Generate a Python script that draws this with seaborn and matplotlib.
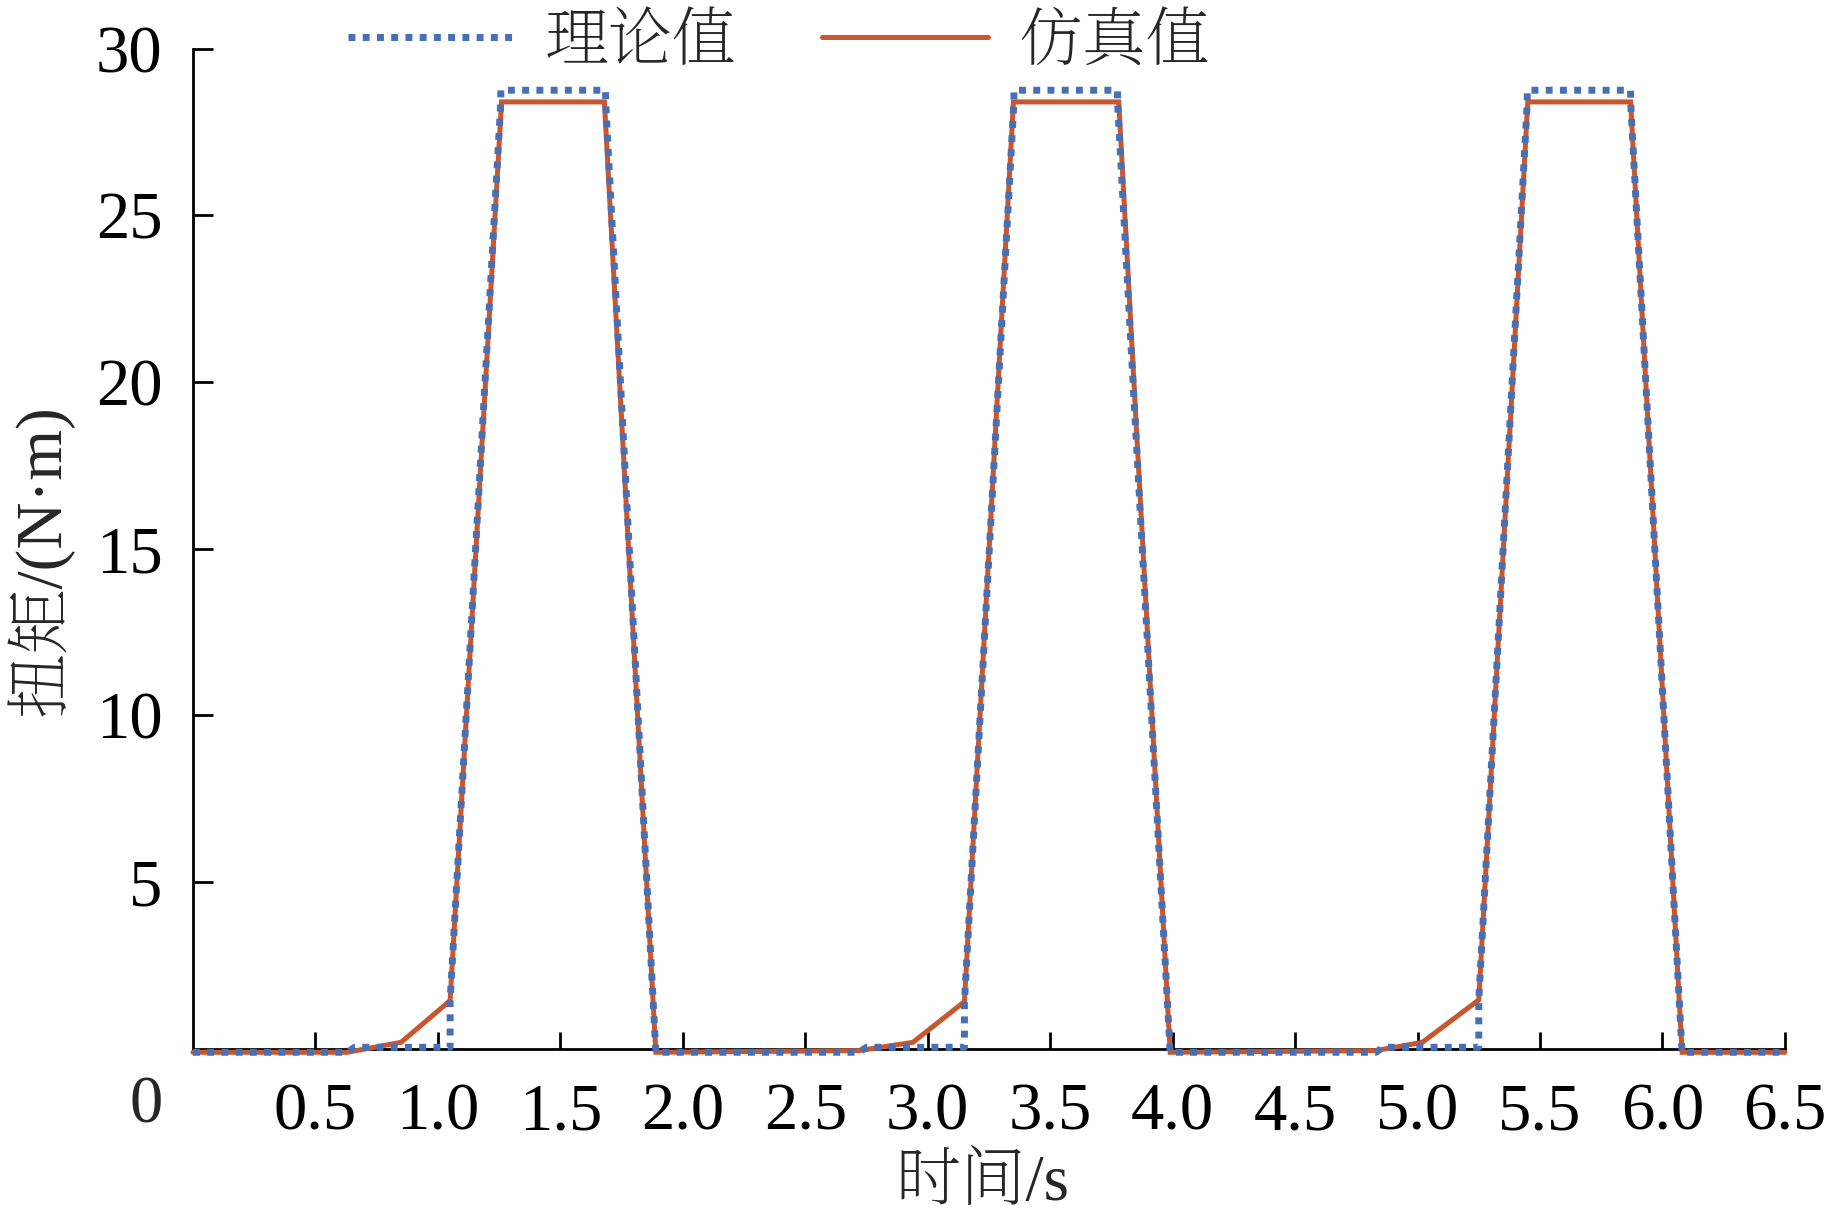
import matplotlib
matplotlib.use("Agg")
import matplotlib.pyplot as plt
from matplotlib import font_manager
import seaborn as sns
import pandas as pd

# ---------------- data ----------------
sim_t = [0, 0.63, 0.85, 1.05, 1.26, 1.68, 1.89, 2.72, 2.94, 3.15, 3.35, 3.78, 3.99,
         4.83, 5.02, 5.25, 5.45, 5.87, 6.08, 6.5]
sim_v = [-0.1, -0.1, 0.2, 1.45, 28.4, 28.4, -0.1, -0.05, 0.2, 1.42, 28.4, 28.4, -0.1,
         -0.05, 0.2, 1.47, 28.4, 28.4, -0.1, -0.1]

theo_t = [0, 0.63, 0.66, 1.05, 1.05, 1.257, 1.257, 1.685, 1.685, 1.89,
          2.72, 2.75, 3.15, 3.15, 3.352, 3.352, 3.775, 3.775, 3.99,
          4.83, 4.86, 5.25, 5.25, 5.448, 5.448, 5.87, 5.87, 6.08, 6.5]
theo_v = [-0.1, -0.1, 0.05, 0.05, 1.45, 28.4, 28.75, 28.75, 28.4, -0.1,
          -0.1, 0.05, 0.05, 1.42, 28.4, 28.75, 28.75, 28.4, -0.1,
          -0.1, 0.05, 0.05, 1.47, 28.4, 28.75, 28.75, 28.4, -0.1, -0.1]

x_ticks = [0.5, 1.0, 1.5, 2.0, 2.5, 3.0, 3.5, 4.0, 4.5, 5.0, 5.5, 6.0, 6.5]
x_ticklabels = ["0.5", "1.0", "1.5", "2.0", "2.5", "3.0", "3.5", "4.0", "4.5",
                "5.0", "5.5", "6.0", "6.5"]
y_ticks = [5, 10, 15, 20, 25, 30]
y_ticklabels = ["5", "10", "15", "20", "25", "30"]

series_names = ["理论值", "仿真值"]
x_label = "时间/s"
y_label = "扭矩/(N·m)"

# ---------------- style ----------------
sns.set_style("white")
available = {f.name for f in font_manager.fontManager.ttflist}
cjk = "Noto Sans CJK SC"
for cand in ["Noto Serif CJK SC", "Noto Serif SC", "AR PL UMing CN", "SimSun"]:
    if cand in available:
        cjk = cand
        break
plt.rcParams["font.family"] = ["Liberation Serif", cjk, "DejaVu Sans"]
plt.rcParams["axes.unicode_minus"] = False

BLUE = "#4570B8"
ORANGE = "#C8562E"

fig = plt.figure(figsize=(18.29, 12.29), dpi=100)
ax = fig.add_axes([0.1055, 0.1465, 0.8704, 0.814])

df_theo = pd.DataFrame({"t": theo_t, "v": theo_v})
df_sim = pd.DataFrame({"t": sim_t, "v": sim_v})

sns.lineplot(data=df_sim, x="t", y="v", ax=ax, color=ORANGE, linewidth=3.6,
             sort=False, estimator=None, label=series_names[1], clip_on=False,
             solid_joinstyle="miter", zorder=3)
sns.lineplot(data=df_theo, x="t", y="v", ax=ax, color=BLUE, linewidth=5.0,
             sort=False, estimator=None, label=series_names[0], clip_on=False,
             linestyle=(0, (1.0, 1.05)), dash_capstyle="butt", zorder=4)

ax.set_xlim(0, 6.5)
ax.set_ylim(0, 30)
ax.set_xticks(x_ticks)
ax.set_xticklabels(x_ticklabels)
ax.set_yticks(y_ticks)
ax.set_yticklabels(y_ticklabels)

for s in ["top", "right"]:
    ax.spines[s].set_visible(False)
for s in ["left", "bottom"]:
    ax.spines[s].set_color("black")
    ax.spines[s].set_linewidth(2.0)
    ax.spines[s].set_zorder(2)

ax.tick_params(axis="x", bottom=True, top=False, direction="in", length=12.5,
               width=2.0, pad=24, labelsize=48, colors="black")
ax.tick_params(axis="y", left=True, right=False, direction="in", length=14.5,
               width=2.0, pad=22, labelsize=48, colors="black")

# origin label
ax.annotate("0", xy=(0, 0), xycoords="data", xytext=(-34, -41),
            textcoords="offset points", ha="center", va="center", fontsize=48,
            annotation_clip=False)

ax.set_xlabel(x_label, fontsize=47)
ax.set_ylabel(y_label, fontsize=47)
ax.xaxis.label.set_va("center")
ax.yaxis.label.set_va("center")
ax.xaxis.set_label_coords(0.496, -0.135)
ax.yaxis.set_label_coords(-0.0961, 0.489)

handles, labels = ax.get_legend_handles_labels()
ax.get_legend().remove()
order = [labels.index(n) for n in series_names]
fig.legend([handles[i] for i in order], [labels[i] for i in order],
           loc="center", bbox_to_anchor=(0.426, 0.964), ncol=2, frameon=False,
           fontsize=46, handlelength=2.6, handletextpad=0.48, columnspacing=1.34,
           borderaxespad=0, borderpad=0)

fig.savefig("out.png", dpi=100, facecolor="white")
